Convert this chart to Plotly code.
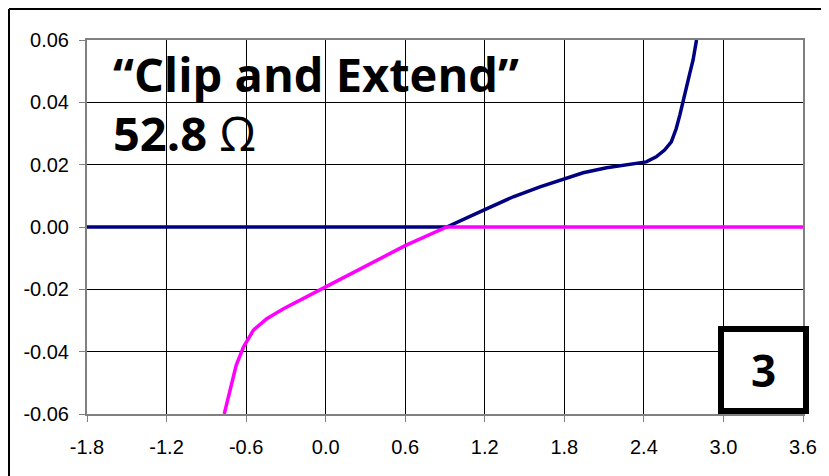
import plotly.graph_objects as go

# Blue (navy) curve
blue_x = [-1.8, 0.0, 0.913, 1.2, 1.415, 1.616, 1.8, 1.942, 2.119, 2.269, 2.418, 2.493,
          2.556, 2.607, 2.644, 2.671, 2.696, 2.721, 2.746, 2.771, 2.797]
blue_y = [0.0, 0.0, 0.0, 0.0056, 0.0097, 0.0129, 0.0156, 0.0174, 0.0190, 0.0199, 0.0209,
          0.0225, 0.0247, 0.0273, 0.0316, 0.0359, 0.0407, 0.0450, 0.0493, 0.0536, 0.06]

# Magenta curve
mag_x = [-0.765, -0.720, -0.675, -0.620, -0.545, -0.444, -0.318, 0.0, 0.310, 0.599,
         0.913, 1.8, 3.6]
mag_y = [-0.06, -0.0524, -0.0444, -0.0385, -0.0331, -0.0294, -0.0262, -0.0192, -0.0123,
         -0.0060, 0.0, 0.0, 0.0]

x_ticks = [-1.8, -1.2, -0.6, 0.0, 0.6, 1.2, 1.8, 2.4, 3.0, 3.6]
y_ticks = [-0.06, -0.04, -0.02, 0.0, 0.02, 0.04, 0.06]

title_text = "“Clip and Extend”"
value_text = "52.8"
omega_text = "Ω"
box_label = "3"

fig = go.Figure()
fig.add_trace(go.Scatter(x=blue_x, y=blue_y, mode="lines",
                         line=dict(color="#000080", width=3.5), showlegend=False))
fig.add_trace(go.Scatter(x=mag_x, y=mag_y, mode="lines",
                         line=dict(color="#FF00FF", width=3.5), showlegend=False))

# plot area on screen: x 87..803, y 40..414 (page body adds 8px offset)
fig.update_layout(
    width=829, height=476,
    margin=dict(l=79, r=34, t=32, b=70),
    paper_bgcolor="white", plot_bgcolor="white",
    font=dict(family="Liberation Sans, Arial", size=20, color="black"),
    xaxis=dict(range=[-1.8, 3.6], tickvals=x_ticks,
               ticktext=[f"{v:.1f}" for v in x_ticks],
               showgrid=True, gridcolor="black", gridwidth=1,
               showline=True, linecolor="#808080", linewidth=2, mirror=True,
               ticks="outside", ticklen=6, tickcolor="#808080", zeroline=False,
               tickfont=dict(size=20), ticklabelstandoff=8),
    yaxis=dict(range=[-0.06, 0.06], tickvals=y_ticks,
               ticktext=[f"{v:.2f}" for v in y_ticks],
               showgrid=True, gridcolor="black", gridwidth=1,
               showline=True, linecolor="#808080", linewidth=2, mirror=True,
               ticks="outside", ticklen=6, tickcolor="#808080", zeroline=False,
               tickfont=dict(size=20), ticklabelstandoff=6),
)

# Outer frame (left and top edges visible)
fx = (1 - 79) / 716
fy = 1 + (32 - 1) / 374
fig.add_shape(type="line", xref="paper", yref="paper", x0=fx, x1=1.2, y0=fy, y1=fy,
              line=dict(color="black", width=2))
fig.add_shape(type="line", xref="paper", yref="paper", x0=fx, x1=fx, y0=-0.3, y1=fy,
              line=dict(color="black", width=2))

# Box with label
fig.add_shape(type="rect", xref="paper", yref="paper",
              x0=(721 - 87) / 716, x1=(806 - 87) / 716,
              y0=(414 - 411) / 374, y1=(414 - 329) / 374,
              line=dict(color="black", width=6), fillcolor="white", layer="above")

fig.add_annotation(xref="paper", yref="paper", x=(763 - 87) / 716, y=(414 - 370) / 374,
                   text=f"<b>{box_label}</b>", showarrow=False,
                   font=dict(family="Open Sans", size=44, color="black"),
                   xanchor="center", yanchor="middle")

fig.add_annotation(xref="paper", yref="paper", x=(111 - 87) / 716, y=(414 - 74) / 374,
                   text=f"<b>{title_text}</b>", showarrow=False,
                   font=dict(family="Open Sans", size=47, color="black"),
                   xanchor="left", yanchor="middle")
fig.add_annotation(xref="paper", yref="paper", x=(111 - 87) / 716, y=(414 - 133) / 374,
                   text=f"<b>{value_text}</b> {omega_text}", showarrow=False,
                   font=dict(family="Open Sans", size=47, color="black"),
                   xanchor="left", yanchor="middle")

fig.write_html("out.html")
